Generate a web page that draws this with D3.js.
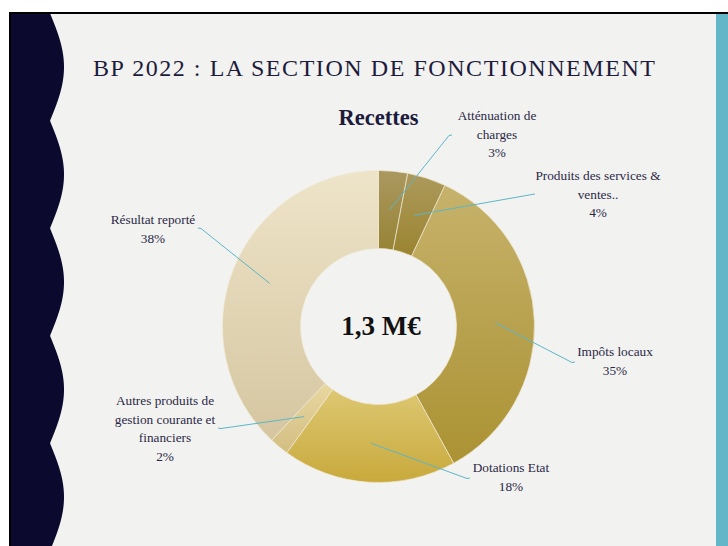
<!DOCTYPE html>
<html>
<head>
<meta charset="utf-8">
<script src="https://cdn.jsdelivr.net/npm/d3@7"></script>
<style>
    html, body { margin: 0; padding: 0; background: #ffffff; }
    svg { display: block; }
    .label { font-family: "Liberation Serif", serif; font-size: 13.3px; fill: #2b2947; }
    .leader { fill: none; stroke: #5cb6c9; stroke-width: 1; }
</style>
</head>
<body>
<div class="panel"></div>
<script>

// Data

const categories = [
    "Atténuation de charges",
    "Produits des services & ventes..",
    "Impôts locaux",
    "Dotations Etat",
    "Autres produits de gestion courante et financiers",
    "Résultat reporté"
];
const shares = [3, 4, 35, 18, 2, 38];
const labelLines = [
    ["Atténuation de", "charges"],
    ["Produits des services &", "ventes.."],
    ["Impôts locaux"],
    ["Dotations Etat"],
    ["Autres produits de", "gestion courante et", "financiers"],
    ["Résultat reporté"]
];
const total = "1,3 M€";
const title = "BP 2022 : LA SECTION DE FONCTIONNEMENT";
const subtitle = "Recettes";

// Styles / layout

const sliceColors = [
    ["#ab9860", "#978435"],
    ["#ad9a5c", "#9a8430"],
    ["#c6b26b", "#ab9233"],
    ["#ddc772", "#c8a93c"],
    ["#e8d7a0", "#d3be82"],
    ["#eee4c9", "#d5c6a0"]
];
// label centre x, first baseline y, end of leader line
const labelPos = [
    { x: 497, y: 120, lx: 452, ly: 135 },
    { x: 598, y: 180, lx: 535, ly: 194 },
    { x: 615, y: 356, lx: 575, ly: 362 },
    { x: 511, y: 472, lx: 470, ly: 478 },
    { x: 165, y: 405, lx: 218, ly: 428 },
    { x: 153, y: 224, lx: 198, ly: 228 }
];

const width = 728, height = 546;
const cx = 378.5, cy = 326.5, rOuter = 156, rInner = 78;

const svg = d3.select(".panel").append("svg")
    .attr("width", width)
    .attr("height", height);

// Frame

svg.append("rect").attr("width", width).attr("height", height).attr("fill", "#ffffff");
svg.append("rect").attr("x", 11).attr("y", 14).attr("width", width - 11).attr("height", height - 14).attr("fill", "#f2f2f0");
svg.append("rect").attr("x", 716).attr("y", 14).attr("width", 12).attr("height", height - 14).attr("fill", "#63b6c8");
svg.append("rect").attr("x", 9).attr("y", 12).attr("width", width - 9).attr("height", 2).attr("fill", "#000000");
svg.append("rect").attr("x", 9).attr("y", 12).attr("width", 2).attr("height", height - 12).attr("fill", "#000000");

// Wavy left band

const waveY = d3.range(14, height + 1, 1);
const waveX = y => 50 + 14 * Math.abs(Math.sin(Math.PI * (y - 13.25) / 107.5));
const wavePts = [[11, 14]].concat(waveY.map(y => [waveX(y), y])).concat([[11, height]]);

svg.append("path")
    .attr("d", d3.line()(wavePts) + "Z")
    .attr("fill", "#0b0a2e");

// Title

svg.append("text")
    .attr("x", 93)
    .attr("y", 76)
    .attr("textLength", 562)
    .attr("lengthAdjust", "spacing")
    .style("font-family", "'Liberation Serif', serif")
    .style("font-size", "24px")
    .style("fill", "#1d1b3c")
    .text(title);

svg.append("text")
    .attr("x", 378.5)
    .attr("y", 125)
    .attr("text-anchor", "middle")
    .style("font-family", "'Liberation Serif', serif")
    .style("font-size", "22.5px")
    .style("font-weight", "bold")
    .style("fill", "#1d1b3c")
    .text(subtitle);

// Donut

const defs = svg.append("defs");
sliceColors.forEach((c, i) => {
    const g = defs.append("linearGradient")
        .attr("id", "grad" + i)
        .attr("x1", 0).attr("y1", 0).attr("x2", 0).attr("y2", 1);
    g.append("stop").attr("offset", "0%").attr("stop-color", c[0]);
    g.append("stop").attr("offset", "100%").attr("stop-color", c[1]);
});

const pie = d3.pie().sort(null).value(d => d);
const arcs = pie(shares);
const arc = d3.arc().innerRadius(rInner).outerRadius(rOuter);

const donut = svg.append("g").attr("transform", `translate(${cx},${cy})`);

donut.selectAll("path.slice")
    .data(arcs)
    .join("path")
    .attr("class", "slice")
    .attr("d", arc)
    .attr("fill", (d, i) => `url(#grad${i})`)
    .attr("stroke", "#efe8d4")
    .attr("stroke-width", 0.7);

svg.append("text")
    .attr("x", 381)
    .attr("y", 335)
    .attr("text-anchor", "middle")
    .style("font-family", "'Liberation Serif', serif")
    .style("font-size", "27px")
    .style("font-weight", "bold")
    .style("fill", "#111111")
    .text(total);

// Labels and leader lines

const fmt = d => d + "%";
const lineH = 18.7;

arcs.forEach((d, i) => {
    const p = labelPos[i];
    const [ax, ay] = arc.centroid(d);
    const tick = p.lx < cx ? 3 : -3;

    svg.append("path")
        .attr("class", "leader")
        .attr("d", d3.line()([[cx + ax, cy + ay], [p.lx + tick, p.ly + 0.5], [p.lx, p.ly]]));

    const t = svg.append("text")
        .attr("class", "label")
        .attr("text-anchor", "middle");

    labelLines[i].concat([fmt(shares[i])]).forEach((s, k) => {
        t.append("tspan")
            .attr("x", p.x)
            .attr("y", p.y + k * lineH)
            .text(s);
    });
});

</script>
</body>
</html>
